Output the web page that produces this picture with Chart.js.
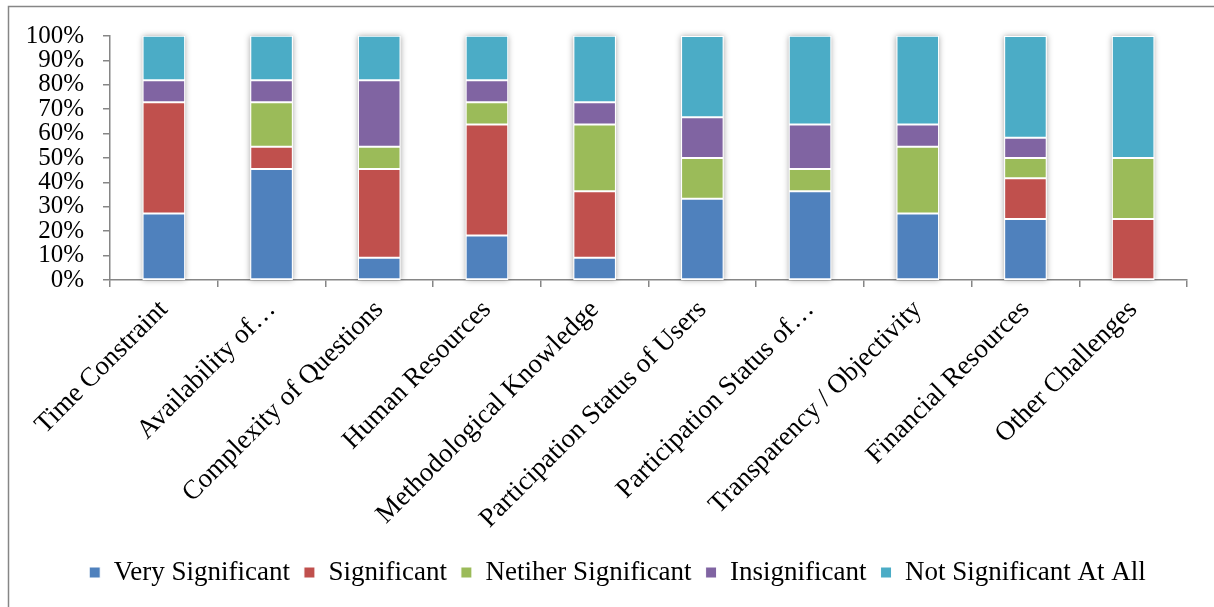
<!DOCTYPE html>
<html>
<head>
<meta charset="utf-8">
<script src="https://cdn.jsdelivr.net/npm/chart.js@4/dist/chart.umd.min.js"></script>
<style>
  html, body { margin: 0; padding: 0; background: #ffffff; }
  #wrap { position: relative; width: 1214px; height: 607px; }
</style>
</head>
<body>
<div id="wrap"><canvas id="chart" width="1214" height="607"></canvas></div>
<script>
// Challenge categories along the x axis
const categories = [
  'Time Constraint',
  'Availability of\u2026',
  'Complexity of Questions',
  'Human Resources',
  'Methodological Knowledge',
  'Participation Status of Users',
  'Participation Status of\u2026',
  'Transparency / Objectivity',
  'Financial Resources',
  'Other Challenges'
];

// Share of responses (%) for each rating
const verySignificant    = [27.3, 45.5,  9.1, 18.2,  9.1, 33.3, 36.4, 27.3, 25.0,  0.0];
const significant        = [45.5,  9.1, 36.4, 45.5, 27.3,  0.0,  0.0,  0.0, 16.7, 25.0];
const neitherSignificant = [ 0.0, 18.2,  9.1,  9.1, 27.3, 16.7,  9.1, 27.3,  8.3, 25.0];
const insignificant      = [ 9.1,  9.1, 27.3,  9.1,  9.1, 16.7, 18.2,  9.1,  8.3,  0.0];
const notSignificantAtAll= [18.2, 18.2, 18.2, 18.2, 27.3, 33.3, 36.4, 36.4, 41.7, 50.0];

const seriesNames = ['Very Significant', 'Significant', 'Netiher Significant', 'Insignificant', 'Not Significant At All'];
const seriesColors = ['#4F81BD', '#C0504D', '#9BBB59', '#8064A2', '#4BACC6'];
const seriesValues = [verySignificant, significant, neitherSignificant, insignificant, notSignificantAtAll];

// y-axis tick values (percent)
const yTicks = [0, 10, 20, 30, 40, 50, 60, 70, 80, 90, 100];

const FONT = "'Liberation Serif', 'Times New Roman', serif";
const AXIS_GREY = '#868686';

// Outer frame around the whole figure; legend centred on the full frame width
const framePlugin = {
  id: 'frame',
  beforeDraw(chart) {
    const lg = chart.legend;
    if (lg && !lg._shifted) {
      lg.left += 24;
      lg.right += 24;
      lg._shifted = true;
    }
    const ctx = chart.ctx;
    ctx.save();
    ctx.fillStyle = '#ffffff';
    ctx.fillRect(0, 0, chart.width, chart.height);
    ctx.strokeStyle = AXIS_GREY;
    ctx.lineWidth = 1.5;
    ctx.strokeRect(8.5, 6.5, chart.width + 40, chart.height + 40);
    ctx.restore();
  }
};

// Soft drop shadow behind each full stacked column
const columnShadow = {
  id: 'columnShadow',
  beforeDatasetsDraw(chart) {
    const meta = chart.getDatasetMeta(0);
    const y = chart.scales.y;
    const top = y.getPixelForValue(100);
    const bottom = y.getPixelForValue(0);
    const ctx = chart.ctx;
    ctx.save();
    ctx.shadowColor = 'rgba(0,0,0,0.35)';
    ctx.shadowBlur = 6;
    ctx.fillStyle = '#ffffff';
    meta.data.forEach(bar => {
      const w = bar.width;
      ctx.fillRect(bar.x - w / 2, top, w, bottom - top);
    });
    ctx.restore();
  }
};

new Chart(document.getElementById('chart'), {
  type: 'bar',
  data: {
    labels: categories,
    datasets: seriesValues.map((vals, i) => ({
      label: seriesNames[i],
      data: vals,
      backgroundColor: seriesColors[i],
      borderColor: '#ffffff',
      borderWidth: 1,
      borderSkipped: false,
      barPercentage: 0.395,
      categoryPercentage: 1.0
    }))
  },
  options: {
    responsive: false,
    animation: false,
    devicePixelRatio: 1,
    layout: { padding: { top: 36, right: 27, bottom: 11, left: 0 } },
    plugins: {
      tooltip: { enabled: false },
      legend: {
        position: 'bottom',
        labels: {
          color: '#000000',
          font: { family: FONT, size: 27 },
          boxWidth: 11,
          boxHeight: 11,
          padding: 14
        }
      }
    },
    scales: {
      x: {
        stacked: true,
        grid: {
          display: true,
          offset: true,
          drawOnChartArea: false,
          drawTicks: true,
          tickLength: 7,
          color: AXIS_GREY,
          lineWidth: 1.5
        },
        border: { display: true, color: AXIS_GREY, width: 1.5 },
        ticks: {
          color: '#000000',
          font: { family: FONT, size: 27 },
          maxRotation: 45,
          minRotation: 45,
          autoSkip: false,
          padding: 7
        },
        afterFit(scale) { scale.height = 265; }
      },
      y: {
        stacked: true,
        min: 0,
        max: 100,
        afterBuildTicks(scale) { scale.ticks = yTicks.map(v => ({ value: v })); },
        grid: {
          display: true,
          drawOnChartArea: false,
          drawTicks: true,
          tickLength: 7,
          color: AXIS_GREY,
          lineWidth: 1.5
        },
        border: { display: true, color: AXIS_GREY, width: 1.5 },
        ticks: {
          color: '#000000',
          font: { family: FONT, size: 25 },
          padding: 19,
          autoSkip: false,
          callback: v => v + '%'
        },
        afterFit(scale) { scale.width = 110; }
      }
    }
  },
  plugins: [framePlugin, columnShadow]
});
</script>
</body>
</html>
